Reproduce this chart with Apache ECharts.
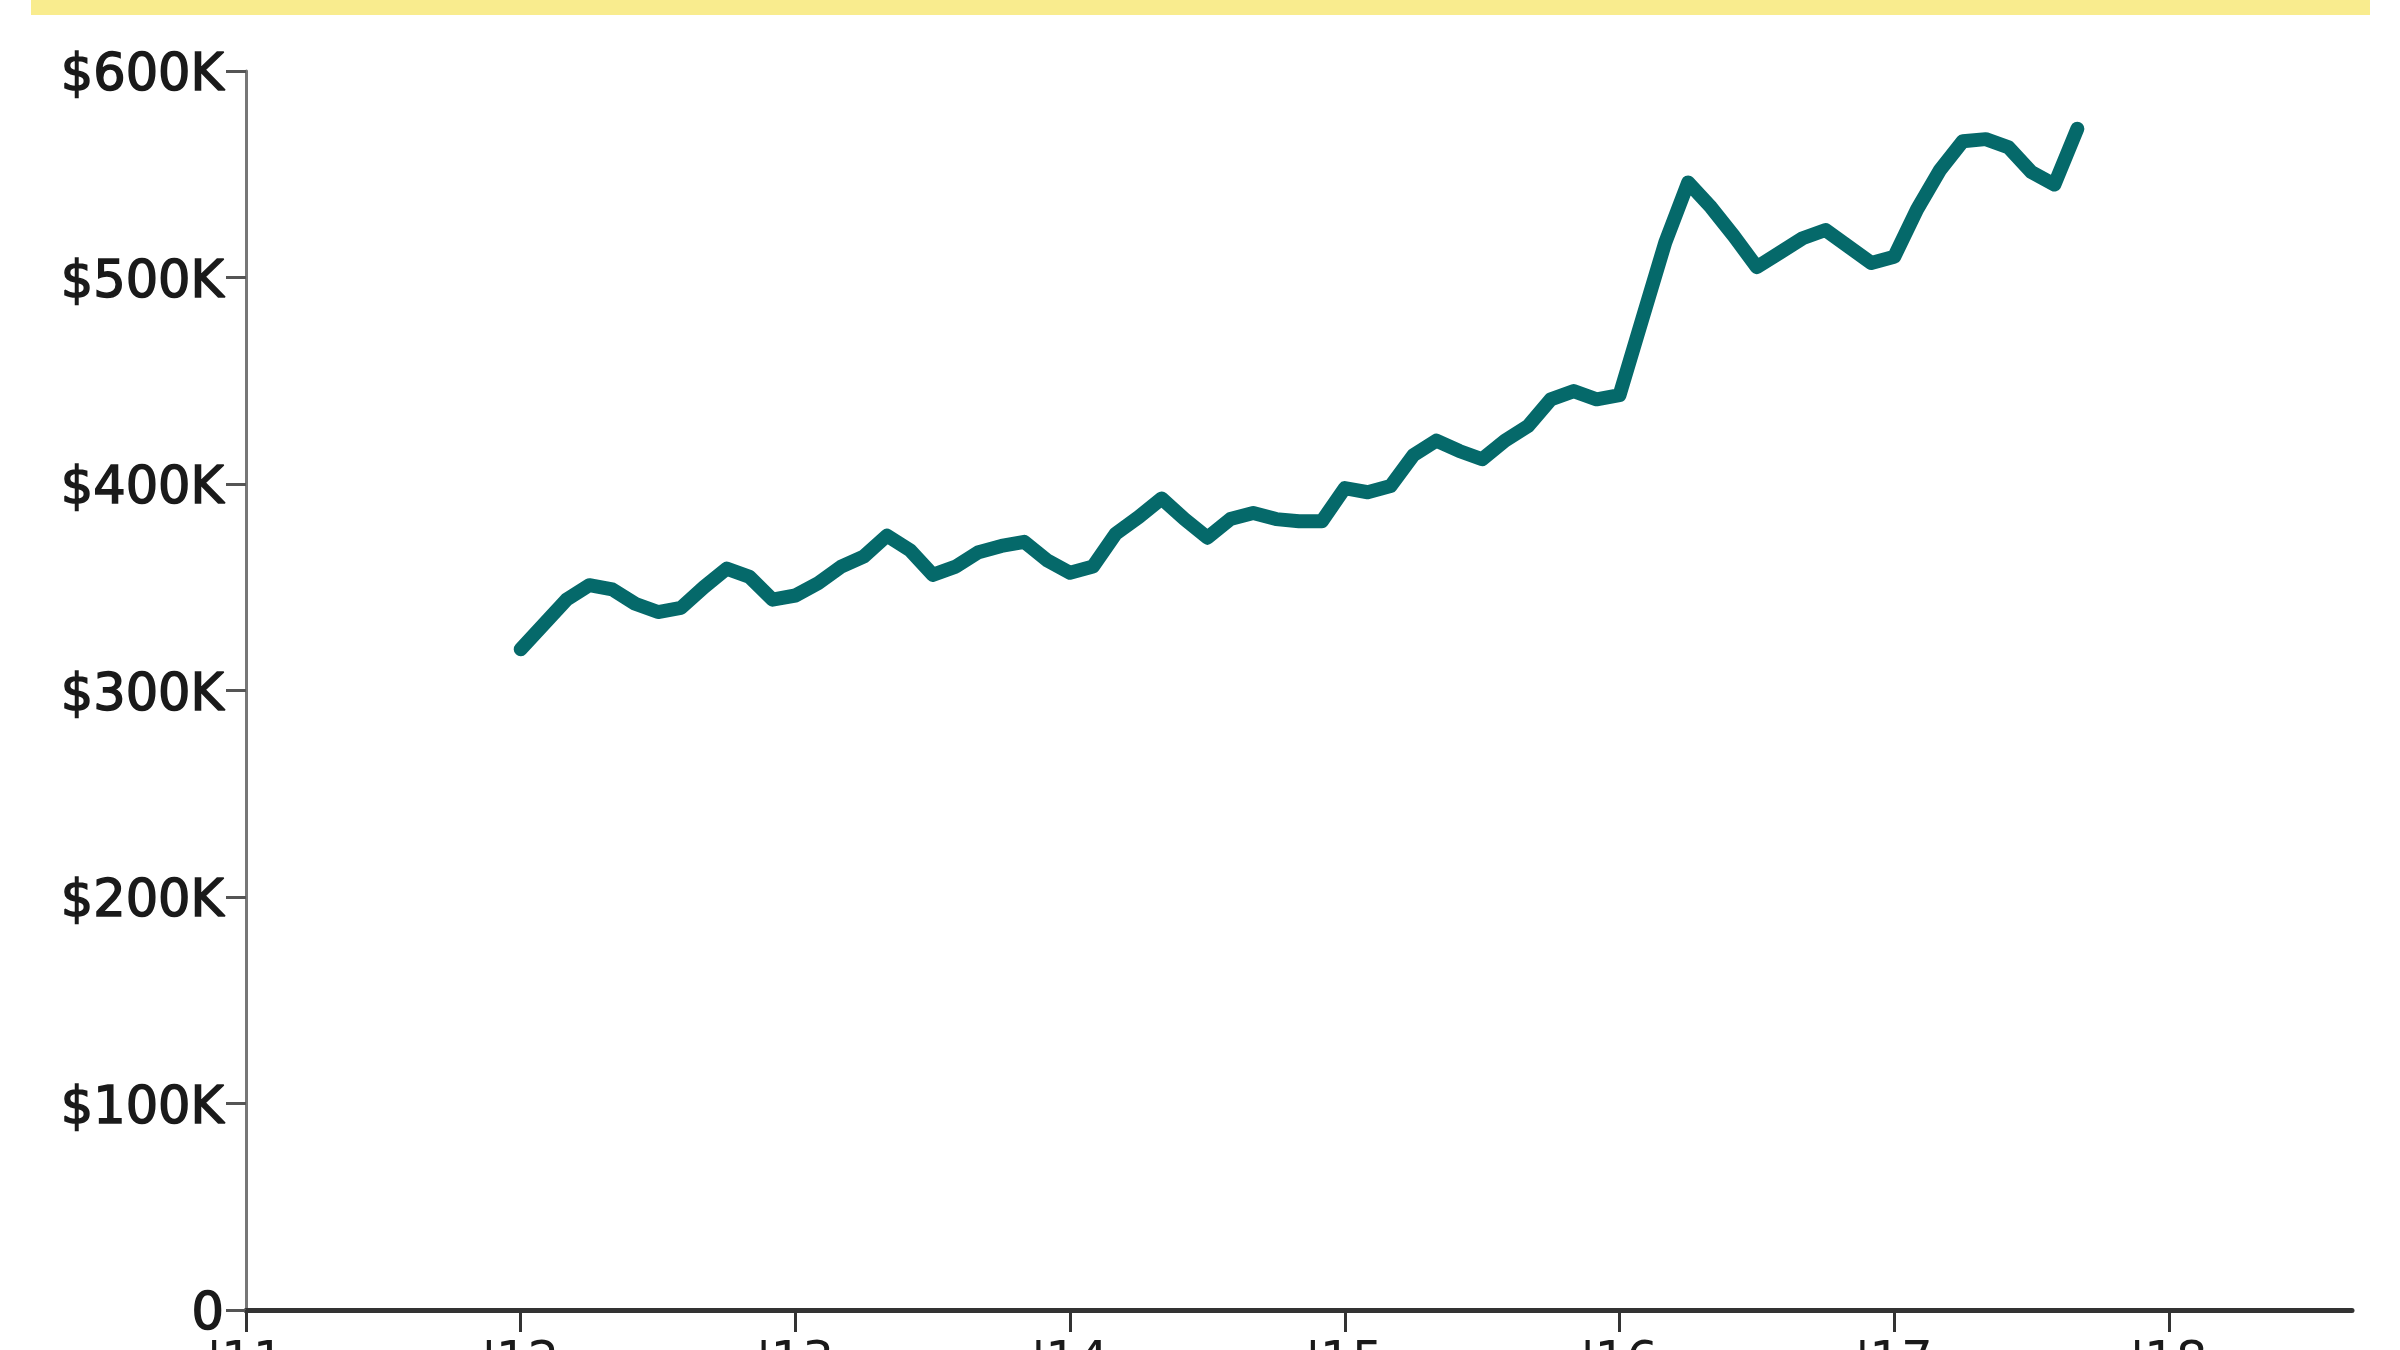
<!DOCTYPE html>
<html>
<head>
<meta charset="utf-8">
<script src="https://cdn.jsdelivr.net/npm/echarts@6/dist/echarts.min.js"></script>
<style>
html,body{margin:0;padding:0;background:#fff;overflow:hidden;}
#chart{width:2400px;height:1350px;}
</style>
</head>
<body>
<div id="chart"></div>
<script>
// Months counted from the first x-axis tick (month 0 = first labelled year)
const months = [12,13,14,15,16,17,18,19,20,21,22,23,24,25,26,27,28,29,30,31,32,33,34,35,36,37,38,39,40,41,42,43,44,45,46,47,48,49,50,51,52,53,54,55,56,57,58,59,60,61,62,63,64,65,66,67,68,69,70,71,72,73,74,75,76,77,78,79,80];
// Values in thousands of dollars
const prices = [320,332,344,351,349,342,338,340,350,359,355,344,346,352,360,365,375,368,356,360,367,370,372,363,357,360,376,384,393,383,374,383,386,383,382,382,398,396,399,414,421,416,412,421,428,441,445,441,443,480,517,546,534,520,505,512,519,523,515,507,510,533,552,566,567,563,551,545,572];
const yearLabels = ["'11","'12","'13","'14","'15","'16","'17","'18"];
const yearTicks = [0,12,24,36,48,60,72,84];

const chart = echarts.init(document.getElementById('chart'));
const seriesData = months.map((m, i) => [m, prices[i]]);
const fontFam = 'DejaVu Sans, Verdana, sans-serif';

chart.setOption({
  animation: false,
  backgroundColor: '#ffffff',
  graphic: [{
    type: 'rect',
    shape: { x: 31, y: 0, width: 2339, height: 15 },
    style: { fill: '#f9ec8e' },
    silent: true
  }],
  grid: { left: 246, right: 48, top: 71, bottom: 40, containLabel: false, outerBoundsMode: 'none' },
  xAxis: {
    type: 'value',
    min: 0,
    max: 92,
    interval: 12,
    splitLine: { show: false },
    axisLine: { show: true, onZero: false, lineStyle: { color: '#333333', width: 5 } },
    axisTick: { show: true, length: 22, customValues: yearTicks, lineStyle: { color: '#333333', width: 3 } },
    axisLabel: {
      show: true,
      customValues: yearTicks,
      margin: 28,
      fontSize: 50,
      fontFamily: fontFam,
      color: '#1a1a1a',
      formatter: v => yearLabels[Math.round(v / 12)] || ''
    }
  },
  yAxis: {
    type: 'value',
    min: 0,
    max: 600,
    interval: 100,
    splitLine: { show: false },
    axisLine: { show: true, lineStyle: { color: '#777777', width: 3 } },
    axisTick: { show: true, length: 20, lineStyle: { color: '#555555', width: 3 } },
    axisLabel: {
      margin: 22,
      fontSize: 51,
      fontFamily: fontFam,
      color: '#1a1a1a',
      textBorderColor: '#1a1a1a',
      textBorderWidth: 1.5,
      verticalAlign: 'top',
      lineHeight: 12,
      formatter: v => (v === 0 ? '0' : '$' + v + 'K')
    }
  },
  series: [{
    type: 'line',
    data: seriesData,
    showSymbol: false,
    symbol: 'none',
    smooth: false,
    lineStyle: { color: '#05696a', width: 14, join: 'round', cap: 'round' }
  }]
});
</script>
</body>
</html>
